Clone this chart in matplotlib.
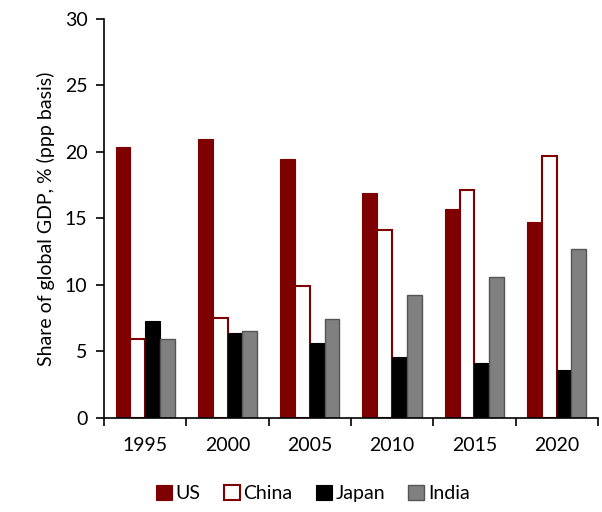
import matplotlib
matplotlib.use("Agg")
import matplotlib.pyplot as plt
import numpy as np

years = ["1995", "2000", "2005", "2010", "2015", "2020"]
us = [20.4, 21.0, 19.5, 16.9, 15.7, 14.7]
china = [5.9, 7.5, 9.9, 14.1, 17.1, 19.7]
japan = [7.3, 6.4, 5.6, 4.6, 4.1, 3.6]
india = [5.9, 6.5, 7.4, 9.2, 10.6, 12.7]

plt.rcParams['font.family'] = ['Lato', 'DejaVu Sans']

fig = plt.figure(figsize=(6.02, 5.12), dpi=100)
ax = fig.add_axes([0.173, 0.184, 0.820, 0.779])

x = np.arange(len(years))
w = 0.18
off = [-1.5 * w, -0.5 * w, 0.5 * w, 1.5 * w]
ax.bar(x + off[0], us, w, color="#7f0000", edgecolor="#7f0000", linewidth=0.8, label="US")
ax.bar(x + off[1], china, w, color="white", edgecolor="#7f0000", linewidth=1.5, label="China")
ax.bar(x + off[2], japan, w, color="black", edgecolor="black", linewidth=0.8, label="Japan")
ax.bar(x + off[3], india, w, color="#808080", edgecolor="#555555", linewidth=1.0, label="India")

ax.set_xlim(-0.5, len(years) - 0.5)
ax.set_ylim(0, 30)
ax.set_yticks(range(0, 31, 5))
ax.set_xticks(x)
ax.set_xticklabels(years)
ax.set_xticks(np.arange(-0.5, len(years), 1.0), minor=True)
ax.tick_params(axis='x', which='major', length=0, pad=14, labelsize=14)
ax.tick_params(axis='x', which='minor', length=6, width=1.2, direction='out')
ax.tick_params(axis='y', length=6, width=1.2, direction='out', labelsize=14, pad=6)
for s in ['top', 'right']:
    ax.spines[s].set_visible(False)
ax.spines['left'].set_linewidth(1.2)
ax.spines['bottom'].set_linewidth(1.2)
ax.set_ylabel("Share of global GDP, % (ppp basis)", fontsize=14, labelpad=7)

fig.legend(loc='lower center', bbox_to_anchor=(0.52, -0.015), ncol=4, frameon=False,
           fontsize=14, handlelength=0.8, handleheight=0.8, handletextpad=0.2,
           columnspacing=1.2)

fig.savefig("out.png", dpi=100)
